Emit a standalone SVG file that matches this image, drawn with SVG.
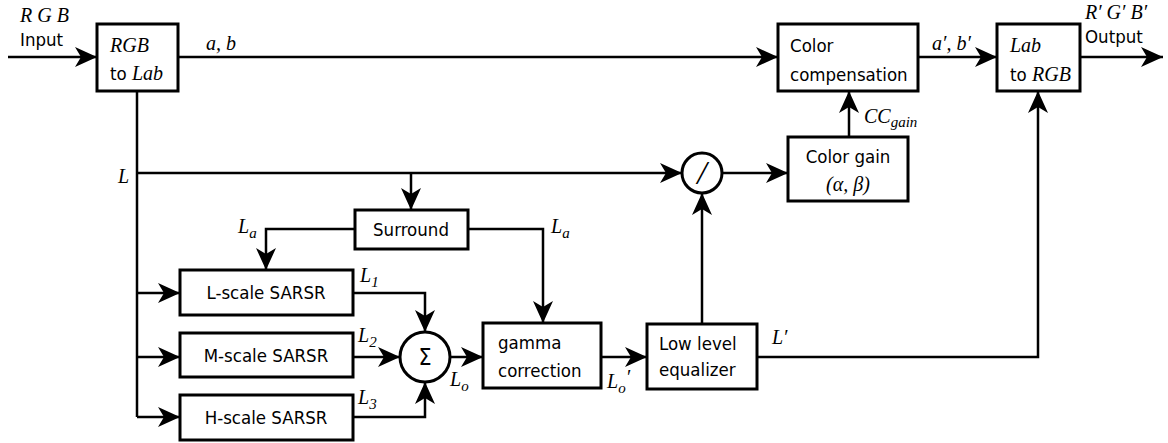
<svg xmlns="http://www.w3.org/2000/svg" width="1168" height="443" viewBox="0 0 1168 443">
<style>
.box{fill:#fff;stroke:#000;stroke-width:3}
.ln{fill:none;stroke:#000;stroke-width:2.5}
.arr{marker-end:url(#ah)}
.t{font-family:"DejaVu Sans Condensed","DejaVu Sans",Verdana,sans-serif;font-stretch:condensed;font-size:18.5px;fill:#000}
.m{font-family:"Liberation Serif","DejaVu Serif",serif;font-style:italic;font-size:20px;fill:#000}
.s{font-size:15px}
.big{font-size:34px}
</style>
<defs>
<marker id="ah" markerUnits="userSpaceOnUse" markerWidth="24" markerHeight="20" refX="22" refY="10" orient="auto">
<path d="M0,0 L22,10 L0,20 L6,10 Z" fill="#000"/>
</marker>
</defs>
<g id="connectors">
<path class="ln arr" d="M8,57 H97"/>
<path class="ln arr" d="M178,57 H778"/>
<path class="ln arr" d="M918,57 H997"/>
<path class="ln arr" d="M1080,57 H1163"/>
<path class="ln arr" d="M849,137 V91"/>
<path class="ln" d="M137,91 V417"/>
<path class="ln arr" d="M137,173 H682"/>
<path class="ln arr" d="M722,173 H788"/>
<path class="ln arr" d="M411,173 V210"/>
<path class="ln arr" d="M355,229 H266 V270"/>
<path class="ln arr" d="M468,229 H543 V323"/>
<path class="ln arr" d="M137,293 H180"/>
<path class="ln arr" d="M137,357 H180"/>
<path class="ln arr" d="M137,417 H180"/>
<path class="ln arr" d="M353,293 H425 V332"/>
<path class="ln arr" d="M353,357 H400"/>
<path class="ln arr" d="M353,417 H425 V382"/>
<path class="ln arr" d="M450,357 H483"/>
<path class="ln arr" d="M601,357 H647"/>
<path class="ln arr" d="M702,324 V193"/>
<path class="ln arr" d="M757,357 H1038 V91"/>
</g>
<g id="labels">
<text class="m" x="20" y="22">R G B</text>
<text class="t" x="20" y="46">Input</text>
<text class="m" x="206" y="50">a, b</text>
<text class="m" x="932" y="50">a′, b′</text>
<text class="m" x="1085" y="19">R′ G′ B′</text>
<text class="t" x="1085" y="43">Output</text>
<text class="m" x="864" y="123">CC<tspan class="s" dy="4">gain</tspan></text>
<text class="m" x="118" y="183">L</text>
<text class="m" x="238" y="233">L<tspan class="s" dy="5">a</tspan></text>
<text class="m" x="551" y="233">L<tspan class="s" dy="5">a</tspan></text>
<text class="m" x="360" y="282">L<tspan class="s" dy="5">1</tspan></text>
<text class="m" x="358" y="342">L<tspan class="s" dy="5">2</tspan></text>
<text class="m" x="358" y="404">L<tspan class="s" dy="5">3</tspan></text>
<text class="m" x="450" y="386">L<tspan class="s" dy="5">o</tspan></text>
<text class="m" x="607" y="388">L<tspan class="s" dy="5">o</tspan><tspan dy="-9">′</tspan></text>
<text class="m" x="772" y="344">L′</text>
</g>
<g id="rgb2lab"><rect class="box" x="97" y="24" width="81" height="67"/><text class="m" x="110" y="52">RGB</text><text class="t" x="110" y="80">to <tspan class="m">Lab</tspan></text></g>
<g id="colorcomp"><rect class="box" x="778" y="24" width="140" height="67"/><text class="t" x="790" y="52">Color</text><text class="t" x="790" y="81">compensation</text></g>
<g id="lab2rgb"><rect class="box" x="997" y="24" width="83" height="67"/><text class="m" x="1010" y="52">Lab</text><text class="t" x="1010" y="81">to <tspan class="m">RGB</tspan></text></g>
<g id="colorgain"><rect class="box" x="788" y="137" width="120" height="64"/><text class="t" x="848" y="163" text-anchor="middle">Color gain</text><text class="m" x="848" y="191" text-anchor="middle">(α, β)</text></g>
<g id="divide"><circle class="box" cx="702" cy="173" r="20"/><text class="m big" x="702" y="184" text-anchor="middle">/</text></g>
<g id="surround"><rect class="box" x="355" y="210" width="113" height="39"/><text class="t" x="411" y="236" text-anchor="middle">Surround</text></g>
<g id="lscale"><rect class="box" x="180" y="270" width="173" height="45"/><text class="t" x="266" y="299" text-anchor="middle">L-scale SARSR</text></g>
<g id="mscale"><rect class="box" x="180" y="333" width="173" height="44"/><text class="t" x="266" y="362" text-anchor="middle">M-scale SARSR</text></g>
<g id="hscale"><rect class="box" x="180" y="395" width="173" height="45"/><text class="t" x="266" y="424" text-anchor="middle">H-scale SARSR</text></g>
<g id="sum"><circle class="box" cx="425" cy="357" r="25"/><text class="t" x="425" y="365" text-anchor="middle" style="font-size:23px">Σ</text></g>
<g id="gamma"><rect class="box" x="483" y="323" width="118" height="65"/><text class="t" x="498" y="349">gamma</text><text class="t" x="498" y="377">correction</text></g>
<g id="lowlevel"><rect class="box" x="647" y="324" width="110" height="65"/><text class="t" x="659" y="350">Low level</text><text class="t" x="659" y="376">equalizer</text></g>
</svg>
